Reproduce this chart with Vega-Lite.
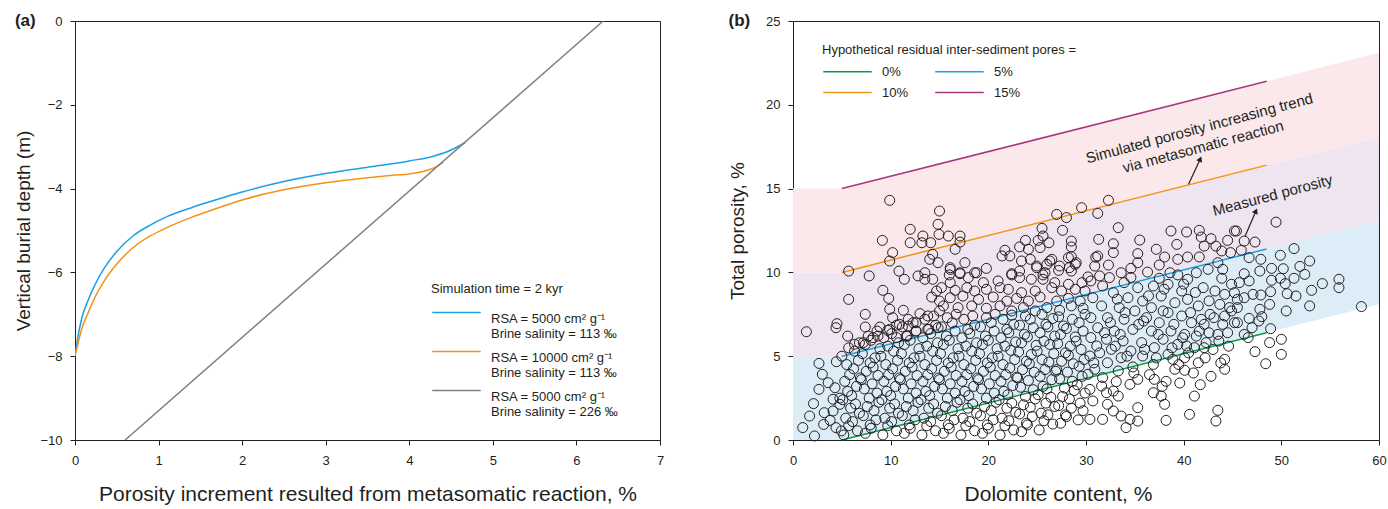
{
"$schema":"https://vega.github.io/schema/vega-lite/v6.json",
"padding":{"left":14,"top":11,"right":0,"bottom":0},
"config":{
"font":"Liberation Sans",
"view":{"stroke":"#231f20","strokeWidth":1},
"axis":{"domainColor":"#231f20","tickColor":"#231f20","labelColor":"#231f20","titleColor":"#231f20","labelFontSize":13,"titleFontSize":19,"titleFontWeight":"normal","grid":false,"tickSize":5,"labelPadding":6},
"legend":{"labelFontSize":13,"titleFontSize":13,"titleFontWeight":"normal","labelColor":"#231f20","titleColor":"#231f20"},
"title":{"fontSize":17,"fontWeight":"bold","anchor":"start","color":"#231f20","frame":"bounds"}
},
"spacing":63,
"resolve":{"scale":{"color":"independent","x":"independent","y":"independent"},"legend":{"color":"independent"}},
"hconcat":[
{
"width":585,"height":419,
"title":{"text":"(a)","dy":19},
"data":{"values":[
{"s":"A","x":0,"y":-8.0},{"s":"A","x":0.03,"y":-7.6},{"s":"A","x":0.08,"y":-7.1},{"s":"A","x":0.15,"y":-6.7},{"s":"A","x":0.25,"y":-6.25},{"s":"A","x":0.35,"y":-5.9},{"s":"A","x":0.5,"y":-5.5},{"s":"A","x":0.7,"y":-5.12},{"s":"A","x":0.9,"y":-4.87},{"s":"A","x":1.1,"y":-4.67},{"s":"A","x":1.4,"y":-4.45},{"s":"A","x":1.7,"y":-4.26},{"s":"A","x":2.0,"y":-4.08},{"s":"A","x":2.5,"y":-3.83},{"s":"A","x":3.0,"y":-3.64},{"s":"A","x":3.5,"y":-3.49},{"s":"A","x":4.0,"y":-3.34},{"s":"A","x":4.3,"y":-3.22},{"s":"A","x":4.5,"y":-3.08},{"s":"A","x":4.67,"y":-2.9},
{"s":"B","x":0,"y":-8.0},{"s":"B","x":0.03,"y":-7.75},{"s":"B","x":0.08,"y":-7.35},{"s":"B","x":0.15,"y":-7.0},{"s":"B","x":0.25,"y":-6.55},{"s":"B","x":0.35,"y":-6.2},{"s":"B","x":0.5,"y":-5.8},{"s":"B","x":0.7,"y":-5.4},{"s":"B","x":0.9,"y":-5.13},{"s":"B","x":1.1,"y":-4.93},{"s":"B","x":1.4,"y":-4.68},{"s":"B","x":1.7,"y":-4.47},{"s":"B","x":2.0,"y":-4.27},{"s":"B","x":2.5,"y":-4.03},{"s":"B","x":3.0,"y":-3.86},{"s":"B","x":3.5,"y":-3.74},{"s":"B","x":3.8,"y":-3.68},{"s":"B","x":4.0,"y":-3.65},{"s":"B","x":4.15,"y":-3.6},{"s":"B","x":4.3,"y":-3.5},{"s":"B","x":4.4,"y":-3.38},
{"s":"C","x":0.6,"y":-10},{"s":"C","x":6.32,"y":0}
]},
"mark":{"type":"line","strokeWidth":1.5,"clip":true,"interpolate":"monotone"},
"encoding":{
"x":{"field":"x","type":"quantitative","scale":{"domain":[0,7],"nice":false,"zero":false},"axis":{"values":[0,1,2,3,4,5,6,7],"labelFlush":false,"labelPadding":9,"title":"Porosity increment resulted from metasomatic reaction, %","titleFontSize":21,"titlePadding":16}},
"y":{"field":"y","type":"quantitative","scale":{"domain":[-10,0],"nice":false},"axis":{"values":[-10,-8,-6,-4,-2,0],"labelPadding":8,"title":"Vertical burial depth (m)","titlePadding":6}},
"color":{"field":"s","type":"nominal","scale":{"domain":["A","B","C"],"range":["#1ba1e2","#f39315","#808080"]},
"legend":{"title":"Simulation time = 2 kyr","orient":"none","legendX":356,"legendY":262,"symbolType":"M-2.8,0H2.8","symbolSize":300,"symbolStrokeWidth":1.5,"symbolOffset":16,"labelOffset":25,"labelBaseline":"top","labelLimit":300,"rowPadding":1,"titlePadding":7,
"labelExpr":"datum.label == 'A' ? ['RSA = 5000 cm² g⁻¹','Brine salinity = 113 ‰'] : datum.label == 'B' ? ['RSA = 10000 cm² g⁻¹','Brine salinity = 113 ‰'] : ['RSA = 5000 cm² g⁻¹','Brine salinity = 226 ‰']"}}
}
},
{
"width":586,"height":419,
"title":{"text":"(b)","dy":19},
"layer":[
{
"data":{"values":[
{"b":"low","x":0,"lo":0,"hi":5},{"b":"low","x":5,"lo":0,"hi":5},{"b":"low","x":60,"lo":8.1,"hi":13.1},
{"b":"mid","x":0,"lo":5,"hi":10},{"b":"mid","x":5,"lo":5,"hi":10},{"b":"mid","x":60,"lo":13.1,"hi":18.1},
{"b":"high","x":0,"lo":10,"hi":15},{"b":"high","x":5,"lo":10,"hi":15},{"b":"high","x":60,"lo":18.1,"hi":23.1}
]},
"mark":{"type":"area","clip":true},
"encoding":{
"x":{"field":"x","type":"quantitative","scale":{"domain":[0,60],"nice":false},"axis":{"values":[0,10,20,30,40,50,60],"labelFlush":false,"labelPadding":9,"title":"Dolomite content, %","titleFontSize":21,"titlePadding":16,"titleX":265}},
"y":{"field":"lo","type":"quantitative","scale":{"domain":[0,25],"nice":false},"axis":{"values":[0,5,10,15,20,25],"labelPadding":8,"title":"Total porosity, %","titlePadding":18}},
"y2":{"field":"hi"},
"fill":{"field":"b","type":"nominal","scale":{"domain":["low","mid","high"],"range":["#dcedf8","#efe5f0","#fbe8ea"]},"legend":null}
}
},
{
"data":{"values":[
{"k":"0%","x":5,"y":0},{"k":"0%","x":48.5,"y":6.4},{"k":"5%","x":5,"y":5},{"k":"5%","x":48.5,"y":11.4},{"k":"10%","x":5,"y":10},{"k":"10%","x":48.5,"y":16.4},{"k":"15%","x":5,"y":15},{"k":"15%","x":48.5,"y":21.4}
]},
"mark":{"type":"line","strokeWidth":1.5},
"encoding":{
"x":{"field":"x","type":"quantitative"},
"y":{"field":"y","type":"quantitative"},
"color":{"field":"k","type":"nominal","scale":{"domain":["0%","10%","5%","15%"],"range":["#0d9a48","#f39315","#1ba1e2","#a8377e"]},
"legend":{"title":"Hypothetical residual inter-sediment pores =","titleLimit":500,"orient":"none","legendX":29,"legendY":23,"columns":2,"symbolType":"M-2.8,0H2.8","symbolSize":300,"symbolStrokeWidth":1.5,"symbolOffset":16,"labelOffset":25,"columnPadding":23,"rowPadding":4,"titlePadding":5}}
}
},
{
"data":{"values":[
{"x":1.37,"y":6.46},{"x":1.0,"y":0.74},{"x":2.2,"y":0.24},{"x":1.7,"y":1.43},{"x":2.1,"y":2.17},{"x":2.66,"y":3.02},{"x":2.66,"y":4.57},{"x":3.0,"y":3.92},{"x":3.6,"y":3.42},{"x":3.2,"y":1.63},{"x":3.8,"y":1.17},{"x":4.4,"y":0.74},{"x":4.3,"y":3.12},{"x":4.8,"y":2.13},{"x":4.44,"y":4.67},{"x":4.5,"y":6.94},{"x":4.4,"y":6.7},{"x":3.14,"y":0.93},{"x":4.1,"y":1.73},{"x":4.8,"y":2.5},{"x":4.1,"y":2.43},{"x":4.95,"y":0.54},
{"x":9.9,"y":14.3},{"x":15.0,"y":13.66},{"x":12.0,"y":12.57},{"x":9.15,"y":11.91},{"x":12.0,"y":11.77},{"x":13.3,"y":12.17},{"x":13.2,"y":11.77},{"x":14.1,"y":11.77},{"x":14.85,"y":12.87},{"x":14.95,"y":12.27},{"x":10.2,"y":11.18},{"x":9.9,"y":10.68},{"x":14.3,"y":11.08},{"x":14.0,"y":10.78},{"x":14.85,"y":10.58},{"x":5.7,"y":10.08},{"x":7.8,"y":9.79},{"x":10.85,"y":10.08},{"x":11.4,"y":9.59},{"x":12.8,"y":9.79},{"x":13.5,"y":9.98},{"x":13.5,"y":9.59},{"x":14.3,"y":9.59},{"x":9.2,"y":8.93},{"x":9.8,"y":8.45},{"x":5.7,"y":8.39},{"x":14.7,"y":8.89},{"x":14.2,"y":8.53},{"x":15.0,"y":8.29},{"x":7.4,"y":7.5},{"x":9.9,"y":7.8},{"x":11.3,"y":7.74},{"x":10.2,"y":7.3},{"x":13.0,"y":7.54},{"x":13.8,"y":7.4},{"x":15.0,"y":7.7},{"x":7.4,"y":6.74},{"x":5.6,"y":6.2},{"x":6.3,"y":5.71},{"x":7.2,"y":5.81},{"x":8.2,"y":6.11},{"x":8.9,"y":6.74},{"x":8.7,"y":6.2},{"x":9.7,"y":6.54},{"x":10.9,"y":6.9},{"x":11.8,"y":6.8},{"x":12.6,"y":7.0},{"x":10.6,"y":6.11},{"x":11.6,"y":6.2},{"x":12.6,"y":6.5},{"x":13.8,"y":6.6},{"x":14.85,"y":6.7},
{"x":5.2,"y":0.3},{"x":5.7,"y":0.85},{"x":5.4,"y":1.3},{"x":5.9,"y":1.9},{"x":5.1,"y":2.4},{"x":5.6,"y":2.9},{"x":5.3,"y":3.5},{"x":5.8,"y":3.9},{"x":5.5,"y":4.5},{"x":5.0,"y":5.0},{"x":5.7,"y":5.5},
{"x":6.6,"y":0.55},{"x":6.1,"y":1.1},{"x":6.8,"y":1.6},{"x":6.4,"y":2.15},{"x":6.0,"y":2.65},{"x":6.5,"y":3.2},{"x":6.9,"y":3.7},{"x":6.2,"y":4.25},{"x":6.7,"y":4.75},{"x":6.3,"y":5.3},{"x":6.8,"y":5.8},
{"x":7.4,"y":0.4},{"x":7.9,"y":0.9},{"x":7.2,"y":1.45},{"x":7.6,"y":2.0},{"x":7.8,"y":2.5},{"x":7.3,"y":3.05},{"x":7.0,"y":3.6},{"x":7.5,"y":4.1},{"x":7.9,"y":4.6},{"x":7.1,"y":5.15},{"x":7.4,"y":5.7},{"x":7.7,"y":6.2},
{"x":8.0,"y":0.7},{"x":8.5,"y":1.2},{"x":8.3,"y":1.75},{"x":8.8,"y":2.25},{"x":8.6,"y":2.8},{"x":8.1,"y":3.35},{"x":8.7,"y":3.85},{"x":8.2,"y":4.35},{"x":8.4,"y":4.9},{"x":8.9,"y":5.45},{"x":8.0,"y":5.95},{"x":8.6,"y":6.5},
{"x":9.2,"y":0.3},{"x":9.7,"y":0.85},{"x":9.4,"y":1.3},{"x":9.9,"y":1.9},{"x":9.1,"y":2.4},{"x":9.6,"y":2.9},{"x":9.3,"y":3.5},{"x":9.8,"y":3.9},{"x":9.5,"y":4.5},{"x":9.0,"y":5.0},{"x":9.7,"y":5.6},{"x":9.3,"y":6.1},{"x":9.9,"y":6.6},
{"x":10.6,"y":0.55},{"x":10.1,"y":1.1},{"x":10.8,"y":1.6},{"x":10.4,"y":2.15},{"x":10.0,"y":2.65},{"x":10.5,"y":3.2},{"x":10.9,"y":3.7},{"x":10.2,"y":4.25},{"x":10.7,"y":4.75},{"x":10.3,"y":5.3},{"x":10.8,"y":5.8},{"x":10.1,"y":6.35},{"x":10.6,"y":6.85},
{"x":11.4,"y":0.4},{"x":11.9,"y":0.9},{"x":11.2,"y":1.45},{"x":11.6,"y":2.0},{"x":11.8,"y":2.5},{"x":11.3,"y":3.05},{"x":11.0,"y":3.6},{"x":11.5,"y":4.1},{"x":11.9,"y":4.6},{"x":11.1,"y":5.15},{"x":11.4,"y":5.7},{"x":11.7,"y":6.2},{"x":11.2,"y":6.75},{"x":11.8,"y":7.2},
{"x":12.0,"y":0.7},{"x":12.5,"y":1.2},{"x":12.3,"y":1.75},{"x":12.8,"y":2.25},{"x":12.6,"y":2.8},{"x":12.1,"y":3.35},{"x":12.7,"y":3.85},{"x":12.2,"y":4.35},{"x":12.4,"y":4.9},{"x":12.9,"y":5.45},{"x":12.0,"y":5.95},{"x":12.6,"y":6.5},{"x":12.3,"y":7.0},
{"x":13.2,"y":0.3},{"x":13.7,"y":0.85},{"x":13.4,"y":1.3},{"x":13.9,"y":1.9},{"x":13.1,"y":2.4},{"x":13.6,"y":2.9},{"x":13.3,"y":3.5},{"x":13.8,"y":3.9},{"x":13.5,"y":4.5},{"x":13.0,"y":5.0},{"x":13.7,"y":5.6},{"x":13.3,"y":6.1},{"x":13.9,"y":6.6},{"x":13.5,"y":7.2},
{"x":14.6,"y":0.55},{"x":14.1,"y":1.1},{"x":14.8,"y":1.6},{"x":14.4,"y":2.15},{"x":14.0,"y":2.65},{"x":14.5,"y":3.2},{"x":14.9,"y":3.7},{"x":14.2,"y":4.25},{"x":14.7,"y":4.75},{"x":14.3,"y":5.3},{"x":14.8,"y":5.8},{"x":14.1,"y":6.35},{"x":14.6,"y":6.85},{"x":14.4,"y":7.4},
{"x":15.4,"y":0.4},{"x":15.9,"y":0.9},{"x":15.2,"y":1.45},{"x":15.6,"y":2.0},{"x":15.8,"y":2.5},{"x":15.3,"y":3.05},{"x":15.0,"y":3.6},{"x":15.5,"y":4.1},{"x":15.9,"y":4.6},{"x":15.1,"y":5.15},{"x":15.4,"y":5.7},{"x":15.7,"y":6.2},{"x":15.2,"y":6.75},{"x":15.8,"y":7.3},
{"x":16.0,"y":0.7},{"x":16.5,"y":1.2},{"x":16.3,"y":1.75},{"x":16.8,"y":2.25},{"x":16.6,"y":2.8},{"x":16.1,"y":3.35},{"x":16.7,"y":3.85},{"x":16.2,"y":4.35},{"x":16.4,"y":4.9},{"x":16.9,"y":5.45},{"x":16.0,"y":5.95},{"x":16.6,"y":6.5},{"x":16.3,"y":7.0},{"x":16.7,"y":7.5},
{"x":17.2,"y":0.3},{"x":17.7,"y":0.85},{"x":17.4,"y":1.3},{"x":17.9,"y":1.9},{"x":17.1,"y":2.4},{"x":17.6,"y":2.9},{"x":17.3,"y":3.5},{"x":17.8,"y":3.9},{"x":17.5,"y":4.5},{"x":17.0,"y":5.0},{"x":17.7,"y":5.6},{"x":17.3,"y":6.1},{"x":17.9,"y":6.6},{"x":17.5,"y":7.2},
{"x":18.6,"y":0.55},{"x":18.1,"y":1.1},{"x":18.8,"y":1.6},{"x":18.4,"y":2.15},{"x":18.0,"y":2.65},{"x":18.5,"y":3.2},{"x":18.9,"y":3.7},{"x":18.2,"y":4.25},{"x":18.7,"y":4.75},{"x":18.3,"y":5.3},{"x":18.8,"y":5.8},{"x":18.1,"y":6.35},{"x":18.6,"y":6.85},{"x":18.4,"y":7.4},
{"x":19.4,"y":0.4},{"x":19.9,"y":0.9},{"x":19.2,"y":1.45},{"x":19.6,"y":2.0},{"x":19.8,"y":2.5},{"x":19.3,"y":3.05},{"x":19.0,"y":3.6},{"x":19.5,"y":4.1},{"x":19.9,"y":4.6},{"x":19.1,"y":5.15},{"x":19.4,"y":5.7},{"x":19.7,"y":6.2},{"x":19.2,"y":6.75},{"x":19.8,"y":7.3},
{"x":20.0,"y":0.7},{"x":20.5,"y":1.2},{"x":20.3,"y":1.75},{"x":20.8,"y":2.25},{"x":20.6,"y":2.8},{"x":20.1,"y":3.35},{"x":20.7,"y":3.85},{"x":20.2,"y":4.35},{"x":20.4,"y":4.9},{"x":20.9,"y":5.45},{"x":20.0,"y":5.95},{"x":20.6,"y":6.5},{"x":20.3,"y":7.0},{"x":20.7,"y":7.5},
{"x":21.2,"y":0.3},{"x":21.7,"y":0.85},{"x":21.4,"y":1.3},{"x":21.9,"y":1.9},{"x":21.1,"y":2.4},{"x":21.6,"y":2.9},{"x":21.3,"y":3.5},{"x":21.8,"y":3.9},{"x":21.5,"y":4.5},{"x":21.0,"y":5.0},{"x":21.7,"y":5.6},{"x":21.3,"y":6.1},{"x":21.9,"y":6.6},{"x":21.5,"y":7.2},
{"x":22.6,"y":0.6},{"x":22.1,"y":1.15},{"x":22.8,"y":1.65},{"x":22.4,"y":2.2},{"x":22.0,"y":2.7},{"x":22.5,"y":3.25},{"x":22.9,"y":3.75},{"x":22.2,"y":4.3},{"x":22.7,"y":4.8},{"x":22.3,"y":5.35},{"x":22.8,"y":5.85},{"x":22.1,"y":6.4},{"x":22.6,"y":6.9},{"x":22.4,"y":7.45},
{"x":23.4,"y":0.5},{"x":23.9,"y":1.0},{"x":23.2,"y":1.55},{"x":23.6,"y":2.1},{"x":23.8,"y":2.6},{"x":23.3,"y":3.15},{"x":23.0,"y":3.7},{"x":23.5,"y":4.2},{"x":23.9,"y":4.7},{"x":23.1,"y":5.25},{"x":23.4,"y":5.8},{"x":23.7,"y":6.3},{"x":23.2,"y":6.85},{"x":23.8,"y":7.4},
{"x":24.0,"y":0.9},{"x":24.5,"y":1.4},{"x":24.3,"y":1.95},{"x":24.8,"y":2.45},{"x":24.6,"y":3.0},{"x":24.1,"y":3.55},{"x":24.7,"y":4.05},{"x":24.2,"y":4.55},{"x":24.4,"y":5.1},{"x":24.9,"y":5.65},{"x":24.0,"y":6.15},{"x":24.6,"y":6.7},{"x":24.3,"y":7.2},
{"x":25.2,"y":0.6},{"x":25.7,"y":1.15},{"x":25.4,"y":1.6},{"x":25.9,"y":2.2},{"x":25.1,"y":2.7},{"x":25.6,"y":3.2},{"x":25.3,"y":3.8},{"x":25.8,"y":4.2},{"x":25.5,"y":4.8},{"x":25.0,"y":5.3},{"x":25.7,"y":5.9},{"x":25.3,"y":6.4},{"x":25.9,"y":6.9},{"x":25.5,"y":7.5},
{"x":26.6,"y":0.95},{"x":26.1,"y":1.5},{"x":26.8,"y":2.0},{"x":26.4,"y":2.55},{"x":26.0,"y":3.05},{"x":26.5,"y":3.6},{"x":26.9,"y":4.1},{"x":26.2,"y":4.65},{"x":26.7,"y":5.15},{"x":26.3,"y":5.7},{"x":26.8,"y":6.2},{"x":26.1,"y":6.75},{"x":26.6,"y":7.25},
{"x":27.4,"y":1.0},{"x":27.9,"y":1.5},{"x":27.2,"y":2.05},{"x":27.6,"y":2.6},{"x":27.8,"y":3.1},{"x":27.3,"y":3.65},{"x":27.0,"y":4.2},{"x":27.5,"y":4.7},{"x":27.9,"y":5.2},{"x":27.1,"y":5.75},{"x":27.4,"y":6.3},{"x":27.7,"y":6.8},{"x":27.2,"y":7.35},
{"x":28.0,"y":1.4},{"x":28.5,"y":1.9},{"x":28.3,"y":2.45},{"x":28.8,"y":2.95},{"x":28.6,"y":3.5},{"x":28.1,"y":4.05},{"x":28.7,"y":4.55},{"x":28.2,"y":5.05},{"x":28.4,"y":5.6},{"x":28.9,"y":6.15},{"x":28.0,"y":6.65},{"x":28.6,"y":7.2},
{"x":29.2,"y":1.2},{"x":29.7,"y":1.75},{"x":29.4,"y":2.2},{"x":29.9,"y":2.8},{"x":29.1,"y":3.3},{"x":29.6,"y":3.8},{"x":29.3,"y":4.4},{"x":29.8,"y":4.8},{"x":29.5,"y":5.4},{"x":29.0,"y":5.9},{"x":29.7,"y":6.5},{"x":29.3,"y":7.0},{"x":29.9,"y":7.5},
{"x":29.55,"y":13.86},{"x":27.0,"y":13.46},{"x":28.0,"y":13.27},{"x":27.6,"y":12.51},{"x":25.5,"y":12.63},{"x":25.6,"y":12.17},{"x":15.9,"y":12.17},{"x":17.1,"y":12.17},{"x":16.6,"y":11.38},{"x":23.8,"y":11.91},{"x":25.1,"y":11.91},{"x":26.2,"y":11.77},{"x":28.5,"y":11.87},{"x":28.5,"y":11.52},{"x":23.2,"y":11.52},{"x":24.1,"y":11.38},{"x":25.3,"y":11.48},{"x":21.7,"y":11.32},{"x":21.4,"y":10.98},{"x":22.2,"y":10.98},{"x":28.5,"y":10.94},{"x":23.4,"y":10.68},{"x":24.3,"y":10.78},{"x":26.3,"y":10.68},{"x":28.2,"y":10.88},{"x":29.0,"y":10.58},{"x":17.6,"y":10.58},
{"x":17.1,"y":11.81},{"x":26.5,"y":10.78},{"x":27.3,"y":10.38},{"x":28.3,"y":10.28},{"x":28.9,"y":10.48},{"x":26.0,"y":10.48},{"x":24.95,"y":10.38},{"x":16.1,"y":10.28},{"x":18.6,"y":9.98},{"x":17.1,"y":9.92},{"x":16.0,"y":9.85},{"x":22.4,"y":9.85},{"x":25.6,"y":9.85},{"x":30.2,"y":9.73},
{"x":19.8,"y":10.24},{"x":16.1,"y":10.18},{"x":18.8,"y":9.98},{"x":17.1,"y":9.98},{"x":22.4,"y":9.92},{"x":23.2,"y":10.08},{"x":24.95,"y":10.28},{"x":25.8,"y":9.98},{"x":27.2,"y":10.12},{"x":28.5,"y":10.08},{"x":17.95,"y":9.69},{"x":21.0,"y":9.49},{"x":23.2,"y":9.69},{"x":24.4,"y":9.59},{"x":25.6,"y":9.59},{"x":26.8,"y":9.39},{"x":28.2,"y":9.29},{"x":29.6,"y":9.39},{"x":16.1,"y":9.39},{"x":19.5,"y":9.39},
{"x":15.2,"y":9.09},{"x":16.6,"y":8.93},{"x":17.8,"y":9.09},{"x":18.6,"y":8.89},{"x":19.8,"y":8.99},{"x":21.2,"y":9.09},{"x":22.05,"y":8.99},{"x":23.4,"y":8.79},{"x":24.8,"y":8.89},{"x":26.5,"y":9.09},{"x":27.5,"y":8.89},{"x":28.9,"y":8.99},{"x":29.9,"y":8.89},
{"x":16.1,"y":8.49},{"x":17.4,"y":8.59},{"x":19.0,"y":8.39},{"x":20.5,"y":8.53},{"x":21.9,"y":8.29},{"x":22.9,"y":8.45},{"x":24.1,"y":8.29},{"x":25.3,"y":8.53},{"x":27.0,"y":8.29},{"x":28.2,"y":8.45},{"x":29.4,"y":8.29},
{"x":15.4,"y":8.0},{"x":16.9,"y":7.9},{"x":18.3,"y":8.0},{"x":19.8,"y":7.86},{"x":21.2,"y":8.0},{"x":22.4,"y":7.7},{"x":23.6,"y":7.9},{"x":24.8,"y":7.7},{"x":26.0,"y":7.9},{"x":27.3,"y":7.74},{"x":28.5,"y":8.0},{"x":29.7,"y":7.86},
{"x":32.3,"y":14.3},{"x":31.2,"y":13.52},{"x":33.3,"y":12.67},{"x":38.7,"y":12.47},{"x":40.3,"y":12.41},{"x":41.6,"y":12.51},{"x":31.3,"y":11.97},{"x":35.5,"y":11.93},{"x":32.8,"y":11.71},{"x":39.3,"y":11.67},{"x":41.8,"y":12.11},{"x":42.8,"y":12.01},{"x":43.3,"y":11.57},{"x":42.1,"y":11.57},{"x":44.5,"y":11.91},{"x":45.2,"y":12.47},{"x":37.2,"y":11.38},{"x":35.3,"y":11.12},{"x":32.8,"y":11.18},{"x":31.2,"y":10.98},{"x":38.05,"y":10.92},{"x":39.4,"y":10.78},{"x":40.4,"y":10.92},{"x":41.6,"y":10.92},{"x":43.9,"y":11.28},{"x":44.8,"y":11.18},{"x":43.5,"y":10.58},{"x":35.3,"y":10.58},{"x":37.5,"y":10.44},{"x":32.3,"y":10.44},{"x":30.9,"y":10.38},{"x":34.6,"y":10.24},{"x":33.6,"y":9.98},{"x":36.3,"y":10.02},{"x":38.6,"y":9.98},{"x":41.3,"y":9.98},{"x":42.5,"y":10.18},{"x":44.0,"y":10.18},{"x":31.4,"y":9.79},{"x":32.4,"y":9.69},{"x":39.4,"y":9.85},{"x":37.5,"y":9.65},{"x":40.4,"y":9.59},{"x":43.9,"y":9.65},{"x":44.9,"y":9.29},{"x":30.5,"y":9.49},{"x":31.7,"y":9.19},{"x":33.9,"y":9.39},{"x":35.3,"y":9.09},{"x":36.9,"y":9.19},{"x":38.4,"y":9.29},{"x":39.8,"y":8.89},{"x":42.0,"y":9.09},{"x":43.2,"y":8.89},{"x":44.2,"y":8.69},{"x":45.2,"y":8.79},{"x":30.7,"y":8.49},{"x":32.8,"y":8.79},{"x":34.3,"y":8.49},{"x":35.8,"y":8.29},{"x":37.7,"y":8.59},{"x":39.1,"y":8.19},{"x":40.4,"y":8.39},{"x":41.5,"y":8.0},{"x":43.7,"y":8.09},{"x":44.7,"y":7.9},{"x":31.6,"y":8.0},{"x":33.4,"y":7.9},{"x":35.0,"y":7.7},{"x":36.7,"y":7.9},{"x":38.4,"y":7.6},{"x":39.8,"y":7.4},{"x":42.7,"y":7.5},{"x":44.2,"y":7.4},{"x":30.5,"y":7.3},{"x":32.2,"y":7.3},{"x":33.9,"y":7.2},{"x":35.9,"y":7.1},{"x":37.5,"y":7.0},{"x":40.8,"y":7.0},{"x":42.1,"y":6.9},{"x":45.2,"y":7.0},{"x":31.2,"y":6.7},{"x":32.9,"y":6.5},{"x":34.8,"y":6.6},{"x":36.7,"y":6.5},{"x":38.7,"y":6.5},{"x":40.1,"y":6.3},{"x":41.6,"y":6.5},{"x":43.5,"y":6.3},{"x":44.5,"y":6.4},{"x":30.5,"y":6.11},{"x":32.1,"y":6.01},{"x":33.8,"y":5.91},{"x":35.7,"y":5.81},{"x":37.9,"y":6.01},{"x":39.4,"y":5.71},{"x":42.3,"y":5.81},{"x":31.1,"y":5.61},{"x":32.6,"y":5.41},{"x":34.6,"y":5.31},{"x":37.0,"y":5.51},{"x":38.4,"y":5.11},{"x":40.3,"y":5.61},{"x":41.1,"y":5.51},{"x":42.1,"y":5.51},{"x":30.4,"y":5.01},{"x":32.2,"y":4.61},{"x":33.6,"y":4.91},{"x":35.8,"y":5.01},{"x":36.9,"y":4.51},{"x":38.9,"y":4.81},{"x":40.1,"y":4.91},{"x":41.5,"y":4.61},{"x":44.2,"y":4.81},{"x":44.2,"y":4.22},{"x":30.9,"y":4.22},{"x":33.3,"y":4.12},{"x":34.8,"y":4.36},{"x":39.1,"y":4.22},{"x":40.1,"y":4.16},{"x":30.2,"y":3.92},{"x":31.7,"y":3.72},{"x":33.1,"y":3.48},{"x":34.5,"y":3.32},{"x":35.3,"y":3.62},{"x":37.0,"y":3.62},{"x":31.6,"y":3.22},{"x":30.4,"y":3.02},{"x":32.8,"y":2.92},{"x":32.1,"y":2.82},{"x":36.9,"y":2.82},{"x":41.1,"y":2.62},{"x":30.7,"y":2.33},{"x":33.3,"y":2.62},{"x":37.7,"y":2.62},{"x":38.05,"y":2.13},{"x":32.2,"y":2.13},{"x":35.3,"y":1.93},{"x":32.8,"y":1.73},{"x":33.6,"y":1.43},{"x":40.6,"y":1.53},{"x":43.5,"y":1.77},{"x":30.4,"y":1.23},{"x":31.7,"y":1.23},{"x":34.5,"y":1.23},{"x":35.3,"y":1.13},{"x":38.2,"y":1.17},{"x":43.3,"y":1.13},{"x":34.1,"y":0.74},
{"x":30.8,"y":4.6},{"x":31.4,"y":5.2},{"x":31.9,"y":6.4},{"x":32.5,"y":7.0},{"x":33.0,"y":5.6},{"x":33.5,"y":6.3},{"x":34.0,"y":7.6},{"x":34.2,"y":5.0},{"x":34.9,"y":4.0},{"x":35.4,"y":6.9},{"x":36.0,"y":5.4},{"x":36.2,"y":7.3},{"x":36.5,"y":3.9},{"x":37.2,"y":4.9},{"x":37.4,"y":6.3},{"x":37.9,"y":7.7},{"x":38.2,"y":3.5},{"x":38.8,"y":5.5},{"x":39.0,"y":6.9},{"x":39.5,"y":4.5},{"x":39.9,"y":6.1},{"x":40.5,"y":5.2},{"x":40.7,"y":7.6},{"x":41.0,"y":4.0},{"x":41.3,"y":6.2},{"x":41.8,"y":7.2},{"x":42.2,"y":4.9},{"x":42.6,"y":6.4},{"x":43.0,"y":5.4},{"x":43.1,"y":7.3},{"x":43.6,"y":5.9},{"x":44.0,"y":6.9},{"x":44.6,"y":5.6},{"x":44.9,"y":7.7},{"x":43.8,"y":4.6},{"x":42.6,"y":8.3},{"x":41.2,"y":8.8},{"x":40.0,"y":9.3},{"x":38.0,"y":9.0},{"x":36.4,"y":8.6},{"x":34.6,"y":9.7},{"x":33.2,"y":8.4},{"x":31.0,"y":10.9},{"x":37.8,"y":3.2},{"x":39.6,"y":3.4},{"x":42.8,"y":3.8},{"x":41.7,"y":3.3},
{"x":49.46,"y":13.0},{"x":51.3,"y":11.42},{"x":49.9,"y":11.02},{"x":52.9,"y":10.68},{"x":51.9,"y":10.36},{"x":50.2,"y":10.22},{"x":52.4,"y":9.88},{"x":54.2,"y":9.33},{"x":55.9,"y":9.59},{"x":55.9,"y":9.09},{"x":53.1,"y":8.93},{"x":51.3,"y":9.65},{"x":50.4,"y":9.33},{"x":49.9,"y":9.65},{"x":49.0,"y":9.53},{"x":49.0,"y":10.24},{"x":47.8,"y":10.08},{"x":46.7,"y":9.49},{"x":45.7,"y":9.39},{"x":46.2,"y":9.92},{"x":47.9,"y":10.78},{"x":46.7,"y":10.88},{"x":47.3,"y":11.81},{"x":46.2,"y":11.87},{"x":45.9,"y":11.32},{"x":45.4,"y":12.47},{"x":51.5,"y":8.59},{"x":50.6,"y":8.73},{"x":52.9,"y":8.0},{"x":50.5,"y":7.7},{"x":48.9,"y":8.85},{"x":48.8,"y":8.09},{"x":47.9,"y":8.65},{"x":47.1,"y":8.69},{"x":46.2,"y":8.49},{"x":45.5,"y":8.39},{"x":45.5,"y":7.9},{"x":47.8,"y":7.8},{"x":48.0,"y":7.36},{"x":46.7,"y":7.26},{"x":47.7,"y":7.1},{"x":45.5,"y":7.0},{"x":47.0,"y":6.7},{"x":48.9,"y":6.64},{"x":46.2,"y":6.3},{"x":46.6,"y":6.11},{"x":48.8,"y":5.81},{"x":50.0,"y":6.01},{"x":47.3,"y":5.27},{"x":50.0,"y":5.11},{"x":48.4,"y":4.55},{"x":58.2,"y":7.96}
]},
"mark":{"type":"point","shape":"circle","filled":false,"size":100,"color":"#231f20","strokeWidth":1,"opacity":1},
"encoding":{
"x":{"field":"x","type":"quantitative"},
"y":{"field":"y","type":"quantitative"}
}
},
{
"data":{"values":[{"x":40.5,"y":15.26,"x2":41.7,"y2":16.77},{"x":46.3,"y":12.17,"x2":47.4,"y2":13.66}]},
"mark":{"type":"rule","color":"#231f20","strokeWidth":1.2},
"encoding":{"x":{"field":"x","type":"quantitative"},"y":{"field":"y","type":"quantitative"},"x2":{"field":"x2"},"y2":{"field":"y2"}}
},
{
"data":{"values":[{"x":40.5,"y":15.26,"x2":41.7,"y2":16.77},{"x":46.3,"y":12.17,"x2":47.4,"y2":13.66}]},
"mark":{"type":"point","shape":"triangle-up","filled":true,"color":"#231f20","size":40,"angle":24,"opacity":1},
"encoding":{"x":{"field":"x2","type":"quantitative"},"y":{"field":"y2","type":"quantitative"}}
},
{
"data":{"values":[{"t":"Simulated porosity increasing trend","x":41.6,"y":18.6},{"t":"via metasomatic reaction","x":42.0,"y":17.5},{"t":"Measured porosity","x":49.1,"y":14.6}]},
"mark":{"type":"text","angle":345,"fontSize":15,"color":"#231f20"},
"encoding":{"x":{"field":"x","type":"quantitative"},"y":{"field":"y","type":"quantitative"},"text":{"field":"t"}}
}
]
}
]
}
